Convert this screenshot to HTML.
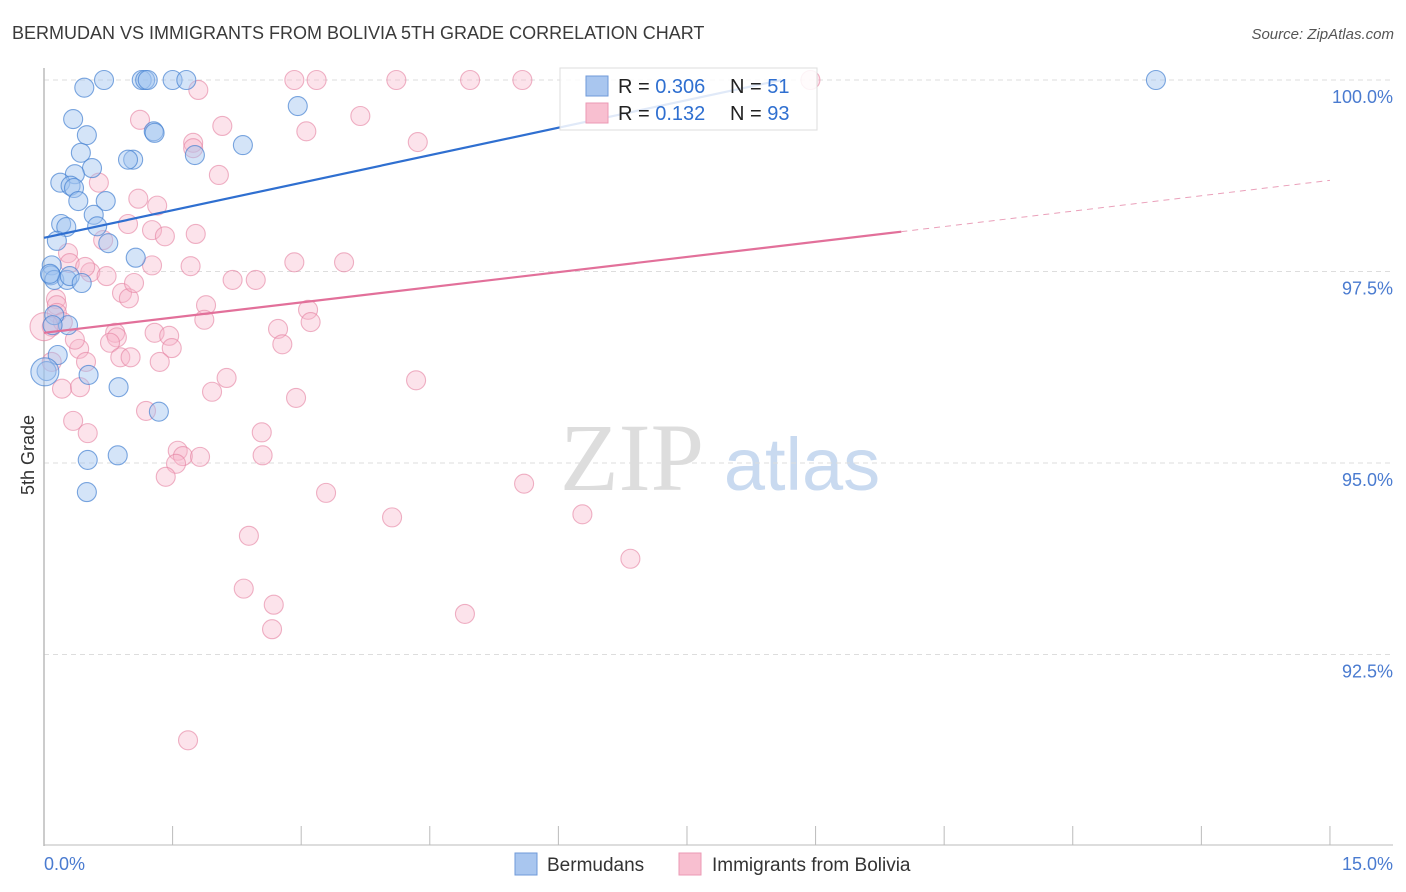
<!DOCTYPE html>
<html><head><meta charset="utf-8"><style>
body{margin:0;background:#fff;font-family:"Liberation Sans",sans-serif}
svg{display:block}
</style></head><body>
<svg width="1406" height="892" xmlns="http://www.w3.org/2000/svg">
<text x="12" y="39" font-size="18" fill="#3a3a3a">BERMUDAN VS IMMIGRANTS FROM BOLIVIA 5TH GRADE CORRELATION CHART</text>
<text x="1394" y="39" font-size="15" fill="#555" text-anchor="end" font-style="italic">Source: ZipAtlas.com</text>
<g>
<text x="632" y="490" font-size="96" fill="#ddd" font-family="Liberation Serif,serif" text-anchor="middle">ZIP</text>
<text x="802" y="490" font-size="74" fill="#c9daf0" text-anchor="middle">atlas</text>
</g>
<g id="grid"></g>
<g id="axes"></g>
<g id="marks"></g>
<g id="lines"></g>
<g>
<rect x="560" y="68" width="257" height="62" fill="#fff" fill-opacity="0.85" stroke="#ddd"/>
<rect x="586" y="76" width="22" height="20" fill="#a9c6ef" stroke="#6f9ad8"/>
<rect x="586" y="103" width="22" height="20" fill="#f8bfd0" stroke="#eb9ab4"/>
<text x="618" y="93" font-size="20" fill="#222">R = <tspan fill="#2f6fd0">0.306</tspan></text>
<text x="730" y="93" font-size="20" fill="#222">N = <tspan fill="#2f6fd0"> 51</tspan></text>
<text x="618" y="120" font-size="20" fill="#222">R = <tspan fill="#2f6fd0"> 0.132</tspan></text>
<text x="730" y="120" font-size="20" fill="#222">N = <tspan fill="#2f6fd0">93</tspan></text>
</g>
<g>
<rect x="515" y="853" width="22" height="22" fill="#a9c6ef" stroke="#6f9ad8"/>
<text x="547" y="871" font-size="19" fill="#333">Bermudans</text>
<rect x="679" y="853" width="22" height="22" fill="#f8bfd0" stroke="#eb9ab4"/>
<text x="712" y="871" font-size="19" fill="#333">Immigrants from Bolivia</text>
</g>
<text transform="translate(34,455) rotate(-90)" font-size="18" fill="#333" text-anchor="middle">5th Grade</text>
</svg>
<script>
const yTicks=[100,97.5,95,92.5];
const yTickLabels=["100.0%","97.5%","95.0%","92.5%"];
const xEndLabels=["0.0%","15.0%"];
const blueX=[0.70,1.14,1.18,1.21,1.50,1.66,0.47,12.97,2.96,0.34,0.50,1.28,1.29,2.32,1.04,0.98,0.43,1.76,0.56,0.36,0.19,0.31,0.35,0.40,0.72,0.58,0.20,0.26,0.62,0.75,0.15,1.07,0.09,0.08,0.12,0.27,0.30,0.44,0.28,0.12,0.16,0.03,0.52,0.87,1.34,0.51,0.86,0.50,0.10,0.07,0.01];
const blueY=[100,100,100,100,100,100,99.90,100,99.66,99.49,99.28,99.33,99.31,99.15,98.96,98.96,99.05,99.02,98.85,98.77,98.66,98.62,98.59,98.42,98.42,98.24,98.12,98.08,98.09,97.87,97.90,97.68,97.58,97.45,97.39,97.39,97.44,97.35,96.80,96.93,96.41,96.20,96.15,95.99,95.67,95.04,95.10,94.62,96.80,97.47,96.19];
const pinkX=[2.92,3.18,4.11,4.97,5.58,8.94,1.80,3.69,1.12,2.08,3.06,4.36,1.74,1.74,2.04,0.64,1.10,1.32,0.98,0.69,1.26,1.41,1.77,0.28,0.54,0.30,0.48,0.73,0.91,0.99,1.05,1.26,1.71,2.20,2.47,2.92,3.50,0.14,0.15,0.15,0.09,0.22,0.83,0.85,0.77,0.41,0.36,0.49,0.89,1.01,1.29,1.46,1.49,1.35,1.89,1.87,2.73,2.78,3.08,3.11,0.09,0.21,0.42,2.13,1.96,2.94,4.34,1.19,0.34,0.51,1.56,1.62,1.54,1.82,2.54,2.55,1.42,3.29,5.60,4.06,6.28,2.39,6.84,2.33,2.68,2.66,4.91,1.68,0.0];
const pinkY=[100,100,100,100,100,100,99.87,99.53,99.48,99.40,99.33,99.19,99.18,99.11,98.76,98.66,98.45,98.36,98.12,97.91,98.04,97.96,97.99,97.74,97.49,97.61,97.56,97.44,97.22,97.15,97.35,97.58,97.57,97.39,97.39,97.62,97.62,97.14,97.06,96.96,96.78,96.84,96.70,96.64,96.57,96.49,96.61,96.32,96.38,96.38,96.70,96.66,96.50,96.32,97.06,96.87,96.75,96.55,97.00,96.84,96.32,95.97,95.99,96.11,95.93,95.85,96.08,95.68,95.55,95.39,95.16,95.09,94.99,95.08,95.40,95.10,94.82,94.61,94.73,94.29,94.33,94.05,93.75,93.36,93.15,92.83,93.03,91.38,96.78];
const blueTrendX=[0,8.6];
const blueTrendY=[97.94,100.0];
const pinkTrendX=[0,10.0];
const pinkTrendY=[96.70,98.02];
const pinkDashX=[10.0,15.0];
const pinkDashY=[98.02,98.69];

const NS="http://www.w3.org/2000/svg";
const X=v=>44+v*85.73;
const Y=v=>80+(100-v)*76.6;
function mk(tag,attrs,parent){const e=document.createElementNS(NS,tag);for(const k in attrs)e.setAttribute(k,attrs[k]);parent.appendChild(e);return e;}
const grid=document.getElementById('grid'),axes=document.getElementById('axes'),marks=document.getElementById('marks'),lines=document.getElementById('lines');
yTicks.forEach((t,i)=>{
 const g=mk('line',{x1:44,x2:1393,y1:Y(t),y2:Y(t),stroke:'#ddd','stroke-dasharray':'5,4'},grid);
 
 
 const l=mk('text',{x:1393,y:Y(t)+23,'font-size':18,fill:'#4a7bd0','text-anchor':'end'},axes);
 l.textContent=yTickLabels[i];
 
 
});
const ax=mk('line',{x1:44,x2:44,y1:68,y2:846,stroke:'#bbb','stroke-width':1.5},axes);


const bx=mk('line',{x1:44,x2:1393,y1:845,y2:845,stroke:'#bbb','stroke-width':1},axes);


for(let i=0;i<=10;i++){
 const t=mk('line',{x1:X(i*1.5),x2:X(i*1.5),y1:826,y2:845,stroke:'#bbb'},axes);
 
 
}
[[0,'start',44],[15,'end',1393]].forEach((a,i)=>{
 const l=mk('text',{x:a[2],y:870,'font-size':18,fill:'#4a7bd0','text-anchor':a[1]},axes);
 l.textContent=xEndLabels[i];
 
 
});
pinkX.forEach((x,i)=>{
 const c=mk('circle',{cx:X(x),cy:Y(pinkY[i]),r:x===0?14:9.5,fill:'rgba(246,182,202,0.38)',stroke:'rgba(228,128,160,0.6)','stroke-width':1.1},marks);
 
 
});
blueX.forEach((x,i)=>{
 const c=mk('circle',{cx:X(x),cy:Y(blueY[i]),r:x<0.02?14:9.5,fill:'rgba(160,196,240,0.45)',stroke:'rgba(70,130,210,0.7)','stroke-width':1.1},marks);
 
 
});
const bl=mk('line',{x1:X(blueTrendX[0]),y1:Y(blueTrendY[0]),x2:X(blueTrendX[1]),y2:Y(blueTrendY[1]),stroke:'#2f6fd0','stroke-width':2.2},lines);


const pl=mk('line',{x1:X(pinkTrendX[0]),y1:Y(pinkTrendY[0]),x2:X(pinkTrendX[1]),y2:Y(pinkTrendY[1]),stroke:'#e2709a','stroke-width':2.2},lines);


const pd=mk('line',{x1:X(pinkDashX[0]),y1:Y(pinkDashY[0]),x2:X(pinkDashX[1]),y2:Y(pinkDashY[1]),stroke:'#eaa0ba','stroke-width':1,'stroke-dasharray':'6,5'},lines);


</script>
</body></html>
